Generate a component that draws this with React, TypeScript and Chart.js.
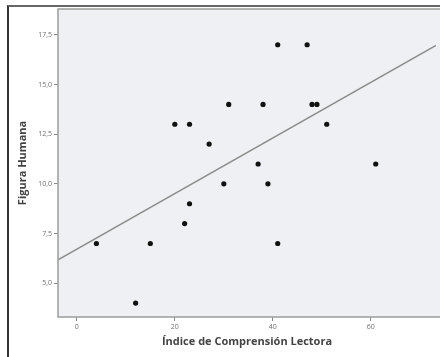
import React, { useEffect, useRef } from "react";
import { Chart, registerables } from "chart.js";

Chart.register(...registerables);

const indiceComprension = [4, 12, 15, 20, 22, 23, 23, 27, 30, 31, 37, 38, 39, 41, 41, 47, 48, 49, 51, 61];
const figuraHumana = [7, 4, 7, 13, 8, 13, 9, 12, 10, 14, 11, 14, 10, 17, 7, 17, 14, 14, 13, 11];
const xTicks = [0, 20, 40, 60];
const yTicks = [5, 7.5, 10, 12.5, 15, 17.5];
const fitIntercept = 6.71;
const fitSlope = 0.14;
const X_MIN = -3.84;
const X_MAX = 73.3;
const Y_MIN = 3.3;
const Y_MAX = 18.8;

const plotBg = {
  id: "plotBg",
  beforeDraw(chart: any) {
    const { ctx, chartArea } = chart;
    ctx.save();
    ctx.fillStyle = "#eff0f3";
    ctx.fillRect(chartArea.left, chartArea.top, chartArea.right - chartArea.left + 10, chartArea.bottom - chartArea.top);
    ctx.restore();
  },
  afterDraw(chart: any) {
    const { ctx, chartArea } = chart;
    ctx.save();
    ctx.strokeStyle = "#9c9c9c";
    ctx.lineWidth = 1.5;
    ctx.strokeRect(chartArea.left, chartArea.top, chartArea.right - chartArea.left + 10, chartArea.bottom - chartArea.top);
    ctx.restore();
  },
};

export default function App() {
  const ref = useRef<HTMLCanvasElement>(null);
  useEffect(() => {
    if (!ref.current) return;
    const points = indiceComprension.map((x, i) => ({ x, y: figuraHumana[i] }));
    const fit = [X_MIN, X_MAX].map((x) => ({ x, y: fitIntercept + fitSlope * x }));
    const fmt = (v: number) => v.toFixed(1).replace(".", ",");
    const chart = new Chart(ref.current, {
      type: "scatter",
      data: {
        datasets: [
          {
            type: "line",
            data: fit,
            borderColor: "#8c8c8c",
            borderWidth: 1.5,
            pointRadius: 0,
            fill: false,
          } as any,
          {
            data: points,
            backgroundColor: "#111111",
            borderColor: "#111111",
            pointRadius: 2.6,
            borderWidth: 0,
          },
        ],
      },
      options: {
        responsive: false,
        animation: false,
        layout: { padding: { top: 9, right: 0, left: 0, bottom: 0 } },
        plugins: { legend: { display: false }, tooltip: { enabled: false } },
        scales: {
          x: {
            type: "linear",
            min: X_MIN,
            max: X_MAX,
            afterBuildTicks: (s: any) => {
              s.ticks = xTicks.map((v) => ({ value: v }));
            },
            afterFit: (s: any) => {
              s.height = 40;
            },
            grid: { drawOnChartArea: false, drawTicks: true, tickLength: 4, color: "#8a8a8a" },
            border: { display: false },
            ticks: {
              autoSkip: false,
              maxRotation: 0,
              padding: 2,
              color: "#6f6f6f",
              font: { family: "Open Sans", size: 7 },
              callback: (v: any) => String(v),
            },
            title: {
              display: true,
              text: "Índice de Comprensión Lectora",
              color: "#444",
              font: { family: "Open Sans", size: 11, weight: "bold" },
              padding: { top: 0, bottom: 8.4 },
            },
          },
          y: {
            type: "linear",
            min: Y_MIN,
            max: Y_MAX,
            afterBuildTicks: (s: any) => {
              s.ticks = yTicks.map((v) => ({ value: v }));
            },
            afterFit: (s: any) => {
              s.width = 58;
            },
            grid: { drawOnChartArea: false, drawTicks: true, tickLength: 4, color: "#8a8a8a" },
            border: { display: false },
            ticks: {
              autoSkip: false,
              padding: 2,
              color: "#6f6f6f",
              font: { family: "Open Sans", size: 7 },
              callback: (v: any) => fmt(Number(v)),
            },
            title: {
              display: true,
              text: "Figura Humana",
              color: "#444",
              font: { family: "Open Sans", size: 11, weight: "bold" },
              padding: { top: 16.4, bottom: 0 },
            },
          },
        },
      },
      plugins: [plotBg],
    });
    return () => chart.destroy();
  }, []);

  return (
    <div style={{ position: "fixed", left: 0, top: 0, width: 440, height: 357, background: "#fff", overflow: "hidden" }}>
      <canvas ref={ref} width={440} height={357} style={{ position: "absolute", left: 0, top: 0 }} />
      <div
        style={{
          position: "absolute",
          left: 7,
          top: 5,
          width: 460,
          height: 380,
          borderLeft: "2px solid #333",
          borderTop: "2px solid #666",
          pointerEvents: "none",
        }}
      />
    </div>
  );
}
